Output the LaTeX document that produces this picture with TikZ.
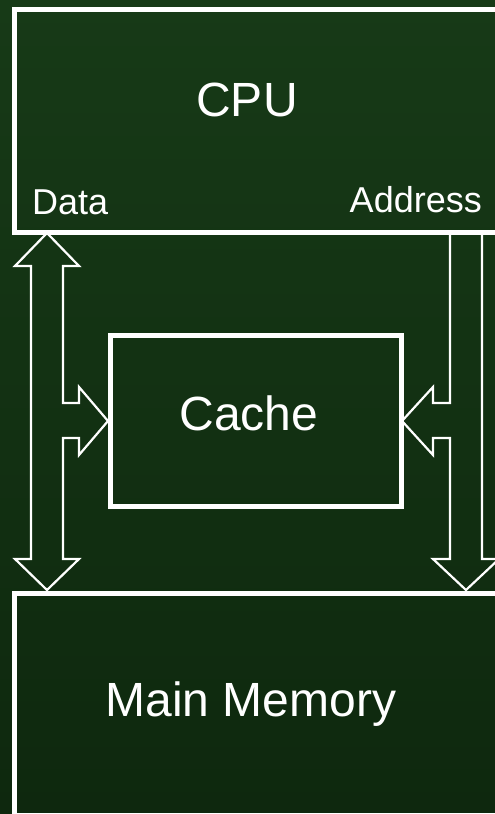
\documentclass[tikz,border=0pt]{standalone}
\usepackage{fontspec}
\setmainfont{Liberation Sans}
\definecolor{bgtop}{RGB}{23,58,23}
\definecolor{bgmid}{RGB}{27,68,27}
\definecolor{bgbot}{RGB}{14,40,14}
\tikzset{
  unitbox/.style={draw=white, line width=5pt, rectangle, inner sep=0pt, outer sep=0pt},
  busline/.style={draw=white, line width=2.2pt, miter limit=10},
  bigtext/.style={text=white, font=\fontsize{48}{56}\selectfont, inner sep=0pt},
  smalltext/.style={text=white, font=\fontsize{36}{42}\selectfont, inner sep=0pt},
}
\begin{document}
\begin{tikzpicture}[x=1pt, y=-1pt]
  \useasboundingbox (0,0) rectangle (495,814);
  \clip (0,0) rectangle (495,814);
  % slide background
  \shade[top color=bgtop, middle color=bgmid, bottom color=bgbot] (0,0) rectangle (495,814);

  % units (the CPU and memory boxes run past the right and bottom edges)
  \node[unitbox, minimum width=490.5pt, minimum height=223pt, anchor=north west] (cpu) at (14.5,9.5) {};
  \node[unitbox, minimum width=291pt, minimum height=171pt, anchor=north west] (cache) at (110,335.5) {};
  \node[unitbox, minimum width=490.5pt, minimum height=222pt, anchor=north west] (mem) at (14.5,593) {};

  % data bus: two-way arrow between CPU and memory, branching into the cache
  \draw[busline] (47,233) -- (79,266) -- (63,266) -- (63,403) -- (79,403) -- (79,387)
    -- (108,421) -- (79,455) -- (79,438) -- (63,438) -- (63,559) -- (79,559)
    -- (47,590) -- (15,559) -- (31,559) -- (31,266) -- (15,266) -- cycle;

  % address bus: one-way from the CPU down to memory, branching into the cache
  \draw[busline] (482,235) -- (482,559) -- (499,559) -- (466,590) -- (433,559)
    -- (450,559) -- (450,438) -- (433,438) -- (433,455) -- (402,421) -- (433,387)
    -- (433,403) -- (450,403) -- (450,235);

  % labels
  \node[bigtext, anchor=base] (cpulabel) at (247,116) {CPU};
  \node[bigtext, anchor=base] (cachelabel) at (249,430) {Cache};
  \node[bigtext, anchor=base] (memlabel) at (251,716) {Main Memory};
  \node[smalltext, anchor=base west] (datalabel) at (32,214) {Data};
  \node[smalltext, anchor=base east] (addrlabel) at (482,212) {Address};
\end{tikzpicture}
\end{document}
